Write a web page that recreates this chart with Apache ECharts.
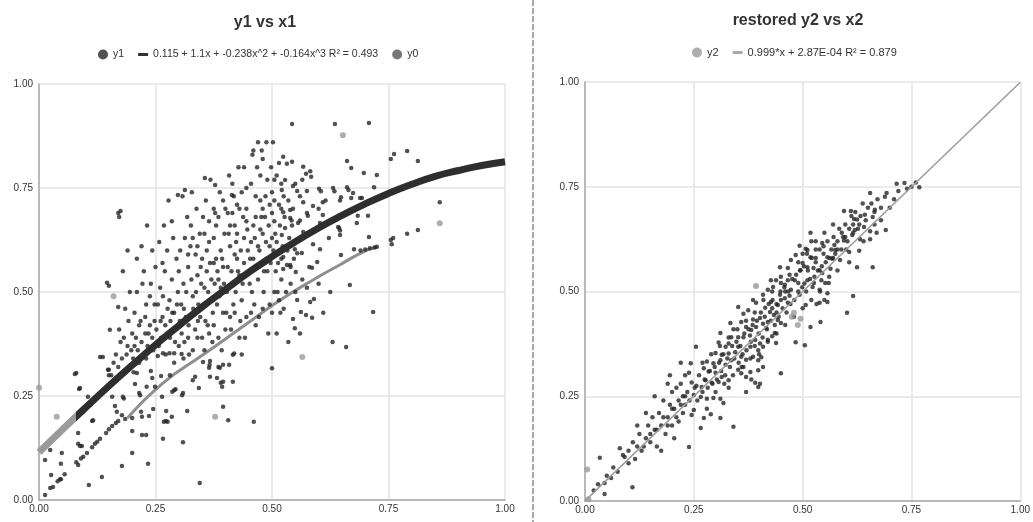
<!DOCTYPE html>
<html><head><meta charset="utf-8">
<script src="https://cdn.jsdelivr.net/npm/echarts@6/dist/echarts.min.js"></script>
<style>html,body{margin:0;padding:0;background:#fff}#c{width:1033px;height:522px}</style>
</head><body><div id="c"></div>
<script>
const axisTicks = [0, 0.25, 0.5, 0.75, 1];
const tickLabels = ['0.00', '0.25', '0.50', '0.75', '1.00'];
const titles = ['y1 vs x1', 'restored y2 vs x2'];
const fit1Name = '0.115 + 1.1x + -0.238x^2 + -0.164x^3 R² = 0.493';
const fit2Name = '0.999*x + 2.87E-04 R² = 0.879';

// fitted curve of left panel
const fit1X = [0, 0.05, 0.1, 0.15, 0.2, 0.25, 0.3, 0.35, 0.4, 0.45, 0.5, 0.55, 0.6, 0.65, 0.7, 0.75, 0.8, 0.85, 0.9, 0.95, 1];
const fit1Y = [0.115, 0.169, 0.222, 0.274, 0.324, 0.373, 0.419, 0.464, 0.506, 0.547, 0.585, 0.621, 0.654, 0.684, 0.712, 0.737, 0.759, 0.778, 0.792, 0.804, 0.813];

// grey y0 curve (lower) of left panel
const y0CurveX = [0.19, 0.266, 0.352, 0.43, 0.517, 0.588, 0.645, 0.695, 0.725];
const y0CurveY = [0.197, 0.281, 0.349, 0.411, 0.48, 0.529, 0.565, 0.596, 0.608];

// grey y0 isolated points
const y0Pts = [[0.0,0.27],[0.038,0.2],[0.16,0.49],[0.378,0.2],[0.652,0.877],[0.86,0.665],[0.565,0.344]];

// dark y1 points (x1, y1)
const y1Pts = [
[0.013,0.096],[0.026,0.06],[0.047,0.087],[0.047,0.05],[0.03,0.031],[0.024,0.029],[0.013,0.012],[0.08,0.091],[0.084,0.084],[0.084,0.135],[0.092,0.13],[0.107,0.036],[0.135,0.055],[0.114,0.19],[0.086,0.267],[0.077,0.303],[0.105,0.248],[0.15,0.313],[0.15,0.3],[0.157,0.248],[0.163,0.226],[0.167,0.212],[0.157,0.178],[0.144,0.161],[0.131,0.147],[0.114,0.127],[0.103,0.113],[0.2,0.166],[0.2,0.113],[0.178,0.082],[0.221,0.156],[0.23,0.156],[0.234,0.087],[0.266,0.147],[0.309,0.139],[0.345,0.041],[0.2,0.197],[0.221,0.2],[0.236,0.202],[0.272,0.19],[0.268,0.188],[0.276,0.188],[0.285,0.2],[0.318,0.214],[0.245,0.219],[0.219,0.212],[0.178,0.204],[0.273,0.214],[0.264,0.248],[0.307,0.252],[0.309,0.257],[0.29,0.264],[0.286,0.26],[0.293,0.266],[0.215,0.257],[0.217,0.252],[0.18,0.248],[0.182,0.244],[0.231,0.272],[0.249,0.272],[0.206,0.279],[0.243,0.293],[0.262,0.298],[0.281,0.3],[0.33,0.288],[0.335,0.296],[0.343,0.269],[0.367,0.296],[0.382,0.293],[0.395,0.325],[0.385,0.32],[0.388,0.318],[0.395,0.284],[0.39,0.282],[0.416,0.284],[0.416,0.349],[0.419,0.352],[0.408,0.325],[0.393,0.272],[0.406,0.192],[0.395,0.224],[0.461,0.188],[0.5,0.317],[0.365,0.318],[0.366,0.325],[0.352,0.332],[0.367,0.334],[0.266,0.353],[0.28,0.353],[0.29,0.353],[0.306,0.351],[0.255,0.346],[0.21,0.305],[0.203,0.307],[0.137,0.344],
[0.04,0.045],[0.045,0.05],[0.055,0.062],[0.09,0.1],[0.095,0.104],[0.12,0.135],[0.125,0.14],[0.15,0.17],[0.165,0.185],[0.17,0.19],[0.185,0.195],
[0.146,0.522],[0.15,0.515],[0.17,0.464],[0.152,0.409],[0.131,0.344],[0.148,0.313],[0.08,0.305],[0.088,0.269],[0.116,0.192],[0.084,0.161],[0.088,0.13],[0.024,0.12],[0.049,0.113],
[0.17,0.69],[0.175,0.695],[0.172,0.68],
[0.18,0.55],[0.19,0.6],[0.195,0.5],[0.185,0.46],[0.2,0.4],[0.175,0.38],[0.165,0.35],[0.19,0.37],
[0.205,0.45],[0.21,0.5],[0.215,0.42],[0.22,0.38],[0.225,0.55],[0.23,0.47],[0.235,0.4],[0.24,0.52],[0.245,0.36],[0.21,0.58],[0.22,0.61],[0.228,0.44],[0.238,0.49],[0.248,0.43],[0.215,0.33],[0.23,0.34],[0.24,0.31],[0.205,0.37],[0.25,0.56],[0.243,0.6],[0.232,0.66],[0.222,0.52],
[0.255,0.47],[0.26,0.51],[0.265,0.44],[0.27,0.55],[0.275,0.4],[0.28,0.48],[0.285,0.53],[0.29,0.45],[0.295,0.58],[0.258,0.62],[0.268,0.66],[0.278,0.72],[0.288,0.63],[0.298,0.5],[0.262,0.39],[0.272,0.35],[0.282,0.43],[0.292,0.38],[0.3,0.55],[0.265,0.57],[0.275,0.6],[0.285,0.67],[0.29,0.33],[0.3,0.42],
[0.305,0.47],[0.31,0.52],[0.315,0.44],[0.32,0.56],[0.325,0.61],[0.33,0.49],[0.335,0.41],[0.34,0.54],[0.345,0.64],[0.35,0.58],[0.308,0.73],[0.318,0.68],[0.328,0.74],[0.338,0.7],[0.348,0.52],[0.312,0.38],[0.322,0.35],[0.332,0.45],[0.342,0.47],[0.35,0.39],[0.303,0.6],[0.313,0.63],[0.326,0.66],[0.336,0.59],[0.346,0.44],
[0.355,0.51],[0.36,0.55],[0.365,0.62],[0.37,0.48],[0.375,0.57],[0.38,0.66],[0.385,0.53],[0.39,0.6],[0.395,0.45],[0.4,0.7],[0.358,0.72],[0.368,0.77],[0.378,0.69],[0.388,0.74],[0.398,0.64],[0.362,0.42],[0.372,0.38],[0.382,0.47],[0.392,0.36],[0.36,0.6],[0.37,0.53],[0.38,0.58],[0.39,0.51],[0.395,0.56],[0.375,0.63],[0.352,0.68],
[0.405,0.56],[0.41,0.61],[0.415,0.52],[0.42,0.66],[0.425,0.58],[0.43,0.7],[0.435,0.48],[0.44,0.63],[0.445,0.75],[0.45,0.55],[0.408,0.78],[0.418,0.73],[0.428,0.8],[0.438,0.68],[0.448,0.6],[0.402,0.45],[0.412,0.41],[0.422,0.5],[0.432,0.43],[0.442,0.39],[0.41,0.66],[0.42,0.59],[0.43,0.54],[0.44,0.57],[0.425,0.64],[0.415,0.69],[0.445,0.67],[0.435,0.35],
[0.455,0.62],[0.46,0.58],[0.465,0.68],[0.47,0.53],[0.475,0.72],[0.48,0.64],[0.485,0.57],[0.49,0.77],[0.495,0.61],[0.5,0.69],[0.458,0.83],[0.468,0.8],[0.478,0.84],[0.488,0.86],[0.498,0.8],[0.462,0.47],[0.472,0.44],[0.482,0.5],[0.492,0.4],[0.46,0.66],[0.47,0.61],[0.48,0.7],[0.49,0.55],[0.5,0.63],[0.475,0.65],[0.452,0.52],[0.5,0.74],[0.486,0.73],
[0.505,0.67],[0.51,0.62],[0.515,0.71],[0.52,0.58],[0.505,0.77],[0.512,0.5],[0.518,0.45],[0.508,0.55],[0.515,0.81],[0.502,0.86],
[0.414,0.733],[0.378,0.757],[0.356,0.774],[0.313,0.745],[0.298,0.733],[0.44,0.8],[0.46,0.84],[0.47,0.86],[0.48,0.82],
[0.667,0.517],[0.717,0.452],[0.659,0.368],[0.86,0.716],[0.79,0.64],[0.813,0.649],[0.755,0.625],[0.76,0.63],[0.757,0.615],[0.79,0.839],[0.813,0.815],[0.762,0.832],[0.755,0.82],[0.708,0.906],[0.635,0.904],[0.543,0.904],[0.661,0.815],[0.67,0.798],[0.697,0.786],[0.725,0.781],[0.719,0.752],[0.706,0.683],[0.684,0.683],[0.682,0.666],[0.693,0.726],[0.708,0.632],[0.676,0.603],[0.648,0.589],[0.646,0.637],[0.644,0.654],[0.622,0.63],[0.603,0.603],[0.588,0.615],[0.586,0.558],[0.58,0.56],[0.551,0.548],[0.539,0.565],[0.597,0.572],[0.554,0.481],[0.582,0.476],[0.59,0.483],[0.562,0.452],[0.573,0.445],[0.586,0.438],[0.545,0.435],[0.549,0.413],
[0.524,0.825],[0.532,0.808],[0.543,0.813],[0.567,0.801],[0.573,0.784],[0.582,0.79],[0.584,0.777],[0.528,0.769],[0.545,0.755],[0.52,0.76],[0.521,0.745],[0.554,0.743],[0.575,0.743],[0.601,0.748],[0.605,0.742],[0.631,0.75],[0.634,0.742],[0.661,0.752],[0.664,0.745],[0.674,0.738],[0.648,0.728],[0.646,0.72],[0.67,0.726],[0.689,0.726],[0.609,0.716],[0.615,0.72],[0.588,0.707],[0.567,0.716],[0.539,0.697],[0.545,0.7],[0.524,0.692],[0.6,0.7],[0.575,0.69],[0.577,0.683],[0.539,0.678],[0.542,0.672],[0.556,0.666],[0.56,0.672],[0.528,0.654],[0.521,0.637],[0.567,0.644],[0.603,0.666],[0.609,0.685],[0.642,0.656],[0.646,0.648],[0.549,0.603],[0.564,0.594],[0.554,0.593],[0.524,0.584],[0.532,0.565],[0.54,0.56],[0.524,0.555],
[0.69,0.6],[0.7,0.602],[0.71,0.605],[0.72,0.607],[0.725,0.609],
[0.52,0.53],[0.53,0.5],[0.5,0.45],[0.51,0.4],[0.535,0.38],[0.56,0.4],[0.61,0.45],[0.625,0.5],[0.63,0.38],[0.6,0.52],
[0.302,0.43],[0.306,0.4],[0.311,0.46],[0.316,0.5],[0.321,0.42],[0.327,0.53],[0.331,0.46],[0.337,0.5],[0.341,0.43],[0.347,0.56],[0.353,0.47],[0.357,0.43],[0.363,0.5],[0.367,0.57],[0.373,0.45],[0.377,0.52],[0.383,0.55],[0.387,0.49],[0.393,0.58],[0.397,0.52],[0.403,0.5],[0.407,0.64],[0.413,0.55],[0.417,0.47],[0.423,0.62],[0.427,0.55],[0.433,0.6],[0.437,0.52],[0.443,0.54],[0.447,0.65],[0.453,0.58],[0.457,0.5],[0.463,0.63],[0.467,0.56],[0.473,0.6],[0.477,0.68],[0.483,0.55],[0.487,0.62],[0.493,0.66],[0.497,0.57],[0.503,0.6],[0.507,0.64],[0.513,0.57],[0.517,0.66],[0.523,0.61],[0.527,0.68],[0.533,0.6],[0.537,0.63],[0.543,0.66],[0.547,0.58],
[0.32,0.59],[0.33,0.63],[0.34,0.61],[0.355,0.64],[0.365,0.67],[0.375,0.7],[0.385,0.68],[0.395,0.72],[0.405,0.69],[0.415,0.76],[0.425,0.71],[0.435,0.74],[0.445,0.7],[0.455,0.76],[0.465,0.73],[0.475,0.78],[0.485,0.68],[0.495,0.71],[0.505,0.72],[0.51,0.78],[0.52,0.7],[0.525,0.73],[0.535,0.72],[0.55,0.76],[0.56,0.73],[0.565,0.77],
[0.3,0.37],[0.31,0.34],[0.32,0.39],[0.33,0.36],[0.34,0.39],[0.355,0.36],[0.365,0.4],[0.375,0.42],[0.385,0.39],[0.4,0.41],[0.41,0.44],[0.42,0.45],[0.43,0.39],[0.445,0.44],[0.455,0.45],[0.465,0.42],[0.48,0.46],[0.495,0.47],[0.505,0.5],[0.515,0.48],[0.525,0.46],[0.54,0.52],[0.55,0.5],[0.565,0.53],[0.575,0.51],
[0.202,0.34],[0.208,0.39],[0.212,0.36],[0.218,0.43],[0.224,0.35],[0.228,0.4],[0.233,0.37],[0.238,0.42],[0.243,0.39],[0.248,0.47],[0.252,0.41],[0.257,0.37],[0.261,0.43],[0.266,0.49],[0.271,0.42],[0.276,0.46],[0.281,0.39],[0.286,0.45],[0.291,0.41],[0.296,0.47],
[0.155,0.3],[0.16,0.33],[0.165,0.29],[0.17,0.32],[0.178,0.34],[0.183,0.31],[0.188,0.35],[0.193,0.32],[0.198,0.36],[0.172,0.41],[0.182,0.39],[0.192,0.43]
];

// right panel: dark points (x2, restored y2)
const x2Pts = [
[0.716,0.757],[0.734,0.759],[0.768,0.749],[0.655,0.735],[0.693,0.735],[0.689,0.726],[0.595,0.692],[0.611,0.692],[0.666,0.695],[0.643,0.683],[0.661,0.678],[0.618,0.673],[0.625,0.672],[0.691,0.647],[0.62,0.647],[0.616,0.64],[0.614,0.635],[0.641,0.654],[0.655,0.644],[0.655,0.625],[0.632,0.625],[0.598,0.63],[0.595,0.622],[0.573,0.611],[0.575,0.599],[0.545,0.616],[0.548,0.608],[0.607,0.594],[0.63,0.597],[0.518,0.64],[0.493,0.609],[0.511,0.599],[0.507,0.602],[0.518,0.582],[0.53,0.58],[0.557,0.582],[0.568,0.578],[0.586,0.575],[0.607,0.57],[0.625,0.558],[0.661,0.558],[0.484,0.587],[0.473,0.575],[0.448,0.558],[0.466,0.556],[0.5,0.568],[0.495,0.551],[0.511,0.558],[0.525,0.556],[0.539,0.551],[0.545,0.544],[0.564,0.554],[0.561,0.535],[0.552,0.52],[0.543,0.527],[0.527,0.535],[0.511,0.527],[0.504,0.519],[0.523,0.511],[0.539,0.504],[0.557,0.496],[0.55,0.48],[0.539,0.473],[0.557,0.475],[0.532,0.47],[0.616,0.489],[0.602,0.449],[0.541,0.427],[0.518,0.415],[0.505,0.372],[0.484,0.379],[0.45,0.305],[0.507,0.468],[0.493,0.492],[0.473,0.504],[0.459,0.516],[0.466,0.527],[0.482,0.527],[0.45,0.535],[0.439,0.527],[0.427,0.527],[0.42,0.504],[0.432,0.511],[0.448,0.492],[0.459,0.484],[0.466,0.473],[0.443,0.468],[0.427,0.475],[0.409,0.492],[0.386,0.48],[0.393,0.473],[0.414,0.461],[0.425,0.451],[0.434,0.444],[0.443,0.432],[0.45,0.425],[0.42,0.427],[0.409,0.423],[0.416,0.413],[0.436,0.401],[0.43,0.393],[0.439,0.377],[0.42,0.385],[0.402,0.437],[0.386,0.433],[0.393,0.415],[0.382,0.408],[0.37,0.415],[0.359,0.427],[0.352,0.463],[0.364,0.447],[0.375,0.455],[0.334,0.425],[0.341,0.41],[0.336,0.391],[0.352,0.391],[0.364,0.391],[0.379,0.395],[0.391,0.384],[0.402,0.376],[0.409,0.368],[0.398,0.36],[0.38,0.368],[0.352,0.368],[0.33,0.376],[0.323,0.368],[0.311,0.401],[0.307,0.378],[0.3,0.353],[0.314,0.349],[0.33,0.352],[0.345,0.355],[0.359,0.344],[0.37,0.337],[0.386,0.344],[0.398,0.336],[0.405,0.343],[0.409,0.32],[0.398,0.312],[0.38,0.308],[0.364,0.32],[0.352,0.313],[0.359,0.305],[0.37,0.296],[0.382,0.29],[0.391,0.282],[0.402,0.28],[0.336,0.336],[0.323,0.325],[0.311,0.336],[0.295,0.329],[0.28,0.333],[0.273,0.317],[0.284,0.309],[0.3,0.306],[0.314,0.296],[0.33,0.288],[0.307,0.284],[0.291,0.282],[0.277,0.288],[0.268,0.272],[0.256,0.275],[0.245,0.283],[0.243,0.329],[0.239,0.306],[0.25,0.253],[0.266,0.248],[0.28,0.244],[0.295,0.246],[0.311,0.244],[0.318,0.234],[0.33,0.27],[0.341,0.177],[0.311,0.198],[0.289,0.207],[0.273,0.198],[0.266,0.174],[0.25,0.217],[0.245,0.205],[0.239,0.129],[0.37,0.26],[0.398,0.272],[0.255,0.368],
[0.034,0.103],[0.045,0.043],[0.08,0.126],[0.091,0.105],[0.087,0.11],[0.045,0.017],[0.109,0.033],[0.02,0.025],[0.03,0.04],[0.05,0.06],[0.06,0.055],[0.065,0.08],[0.075,0.07],[0.1,0.12],[0.11,0.14],[0.115,0.1],[0.125,0.16],[0.13,0.12],[0.14,0.15],[0.145,0.18],[0.15,0.14],[0.155,0.2],[0.16,0.17],[0.165,0.13],[0.17,0.21],[0.175,0.18],[0.18,0.24],[0.185,0.16],[0.19,0.2],[0.195,0.23],[0.2,0.26],[0.2,0.18],[0.205,0.22],[0.21,0.27],[0.215,0.19],[0.215,0.24],[0.22,0.28],[0.225,0.21],[0.225,0.25],[0.23,0.23],[0.23,0.3],[0.235,0.26],[0.16,0.25],[0.19,0.28],[0.12,0.18],[0.14,0.21],[0.175,0.12],[0.205,0.15],[0.195,0.3],[0.22,0.33],
[0.7,0.7],[0.71,0.72],[0.68,0.67],[0.665,0.66],[0.74,0.745],[0.75,0.75],[0.76,0.76],[0.72,0.74],[0.63,0.66],[0.64,0.62],[0.67,0.64],[0.6,0.6],[0.59,0.64],[0.58,0.6],[0.57,0.58],[0.53,0.6],[0.52,0.62],[0.5,0.59],[0.49,0.52],[0.47,0.49],[0.46,0.5],[0.45,0.48],[0.44,0.45],[0.43,0.46],
[0.252,0.27],[0.258,0.24],[0.262,0.3],[0.27,0.26],[0.275,0.29],[0.282,0.27],[0.287,0.31],[0.293,0.28],[0.298,0.32],[0.303,0.29],[0.308,0.33],[0.313,0.31],[0.318,0.35],[0.322,0.3],[0.327,0.34],[0.333,0.32],[0.338,0.37],[0.343,0.34],[0.348,0.38],[0.353,0.33],[0.357,0.37],[0.362,0.35],[0.366,0.4],[0.371,0.36],[0.376,0.41],[0.381,0.38],[0.385,0.42],[0.39,0.37],[0.395,0.43],[0.399,0.4],[0.404,0.45],[0.408,0.39],[0.413,0.44],[0.418,0.41],[0.422,0.47],[0.427,0.43],[0.431,0.48],[0.436,0.42],[0.44,0.47],[0.445,0.44],[0.449,0.5],[0.454,0.46],[0.458,0.51],[0.463,0.45],[0.467,0.5],[0.472,0.47],[0.476,0.53],[0.481,0.48],[0.485,0.54],[0.49,0.5],[0.494,0.55],[0.499,0.51],[0.503,0.56],[0.508,0.5],[0.512,0.55],[0.517,0.53],[0.521,0.58],[0.526,0.52],[0.53,0.57],[0.535,0.55],[0.539,0.6],[0.544,0.56],[0.548,0.59],[0.553,0.57],[0.557,0.62],[0.562,0.58],[0.566,0.6],[0.571,0.63],[0.575,0.59],[0.58,0.62],[0.584,0.65],[0.589,0.6],[0.593,0.63],[0.598,0.66],[0.603,0.62],[0.607,0.65],[0.612,0.68],[0.616,0.66],[0.621,0.69],[0.627,0.65],[0.633,0.68],[0.638,0.71],[0.645,0.67],[0.65,0.7],[0.658,0.71],[0.665,0.69],[0.672,0.72],[0.68,0.7],
[0.28,0.22],[0.3,0.26],[0.32,0.28],[0.34,0.3],[0.36,0.32],[0.38,0.34],[0.4,0.35],[0.42,0.38],[0.44,0.4],[0.46,0.42],[0.48,0.44],[0.5,0.46],[0.52,0.48],[0.54,0.5],[0.56,0.52],[0.58,0.55],[0.27,0.33],[0.29,0.35],[0.31,0.37],[0.33,0.39],[0.35,0.41],[0.37,0.43],[0.39,0.45],[0.41,0.48],[0.43,0.5],[0.45,0.52],[0.47,0.54],[0.49,0.57],[0.51,0.59],[0.53,0.62],[0.55,0.64],[0.57,0.66],
[0.1,0.09],[0.12,0.13],[0.135,0.13],[0.15,0.16],[0.165,0.17],[0.18,0.2],[0.19,0.18],[0.2,0.22],[0.21,0.2],[0.22,0.23],[0.23,0.25],[0.24,0.24]
];
// grey y2 points
const y2Pts = [[0.393,0.513],[0.48,0.449],[0.489,0.42],[0.475,0.44],[0.495,0.435],[0.005,0.075],[0.008,0.004]];
// fitted line right panel
const fit2X = [0, 1];
const fit2Y = [0.0003, 0.9993];

const FONT = "'Liberation Sans', Arial, sans-serif";
const zip = (xs, ys) => xs.map((x, i) => [x, ys[i]]);
const fmt = v => { const i = axisTicks.indexOf(v); return i >= 0 ? tickLabels[i] : v.toFixed(2); };
const lineIcon = 'path://M0,0L10,0L10,0.01L0,0.01Z M0,3.6L10,3.6L10,6.4L0,6.4Z M0,9.99L10,9.99L10,10L0,10Z';

function axis(gridIndex, isX) {
  return {
    type: 'value', gridIndex, min: 0, max: 1, interval: 0.25,
    axisLine: { show: true, lineStyle: { color: '#a8a8a8', width: 1.5 } },
    axisTick: { show: false },
    splitLine: { show: true, lineStyle: { color: '#e3e3e3', width: 1.5 } },
    axisLabel: { formatter: fmt, color: '#333', fontSize: 10, fontFamily: FONT, margin: isX ? 4 : 6 }
  };
}

const chart = echarts.init(document.getElementById('c'), null, { renderer: 'canvas' });
chart.setOption({
  backgroundColor: '#ffffff',
  animation: false,
  title: [
    { text: titles[0], left: 260, top: 10, textAlign: 'center', textStyle: { fontSize: 16, fontWeight: 'bold', color: '#333', fontFamily: FONT } },
    { text: titles[1], left: 793, top: 8, textAlign: 'center', textStyle: { fontSize: 16, fontWeight: 'bold', color: '#333', fontFamily: FONT } }
  ],
  legend: [
    { left: 93, top: 44, itemWidth: 10, itemHeight: 10, itemGap: 14, textStyle: { fontSize: 10.5, color: '#333', fontFamily: FONT },
      data: [{ name: 'y1', icon: 'circle' }, { name: fit1Name, icon: lineIcon }, { name: 'y0', icon: 'circle' }] },
    { left: 687, top: 42, itemWidth: 10, itemHeight: 10, itemGap: 14, textStyle: { fontSize: 11, color: '#333', fontFamily: FONT },
      data: [{ name: 'y2', icon: 'circle' }, { name: fit2Name, icon: lineIcon }] }
  ],
  grid: [
    { left: 39, right: 528, top: 84, bottom: 22 },
    { left: 585, right: 8, top: 82, bottom: 21 }
  ],
  xAxis: [axis(0, true), axis(1, true)],
  yAxis: [axis(0, false), axis(1, false)],
  graphic: [
    { type: 'line', shape: { x1: 533, y1: 0, x2: 533, y2: 522 }, style: { stroke: '#555', lineWidth: 1, lineDash: [6, 2] }, z: 10 }
  ],
  series: [
    { name: 'y0', type: 'line', xAxisIndex: 0, yAxisIndex: 0, data: zip(y0CurveX, y0CurveY), smooth: true, showSymbol: false,
      lineStyle: { color: '#8f8f8f', width: 3 }, itemStyle: { color: '#777' }, z: 2 },
    { name: 'y1', type: 'scatter', xAxisIndex: 0, yAxisIndex: 0, data: y1Pts, symbol: 'circle', symbolSize: 4.5,
      itemStyle: { color: '#262626' }, z: 3 },
    { name: 'y0', type: 'scatter', xAxisIndex: 0, yAxisIndex: 0, data: y0Pts, symbol: 'circle', symbolSize: 6,
      itemStyle: { color: '#9a9a9a' }, z: 3 },
    { name: fit1Name, type: 'line', xAxisIndex: 0, yAxisIndex: 0, data: zip(fit1X, fit1Y), smooth: true, showSymbol: false,
      itemStyle: { color: '#333' },
      lineStyle: { width: 7, color: new echarts.graphic.LinearGradient(0, 0, 1, 0, [
        { offset: 0, color: '#9a9a9a' }, { offset: 0.085, color: '#9a9a9a' }, { offset: 0.085, color: '#2e2e2e' }, { offset: 1, color: '#2e2e2e' }]) }, z: 4 },

    { name: 'restored', type: 'scatter', xAxisIndex: 1, yAxisIndex: 1, data: x2Pts, symbol: 'circle', symbolSize: 4.5,
      itemStyle: { color: '#262626' }, z: 3 },
    { name: fit2Name, type: 'line', xAxisIndex: 1, yAxisIndex: 1, data: zip(fit2X, fit2Y), showSymbol: false,
      itemStyle: { color: '#aaa' }, lineStyle: { color: '#9c9c9c', width: 1.5 }, z: 4 },
    { name: 'y2', type: 'scatter', xAxisIndex: 1, yAxisIndex: 1, data: y2Pts, symbol: 'circle', symbolSize: 6,
      itemStyle: { color: '#9a9a9a' }, z: 5 }
  ]
});
</script></body></html>
